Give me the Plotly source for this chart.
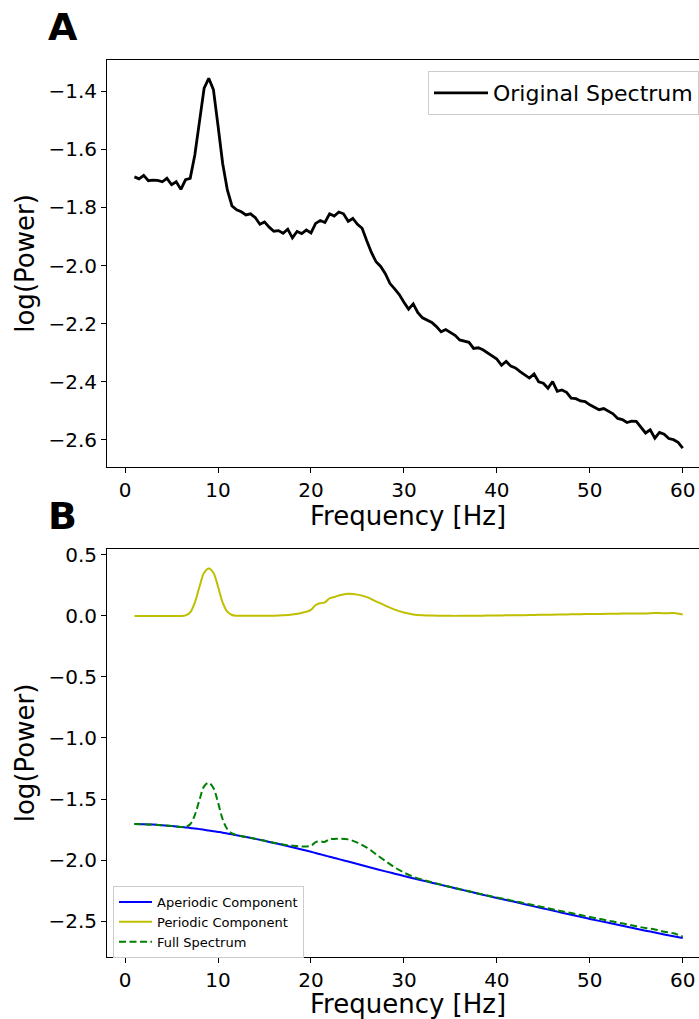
import plotly.graph_objects as go

# ---------------- Panel A: original spectrum (0.5 Hz resolution) ----------------
freq_a = [1.0 + 0.5 * i for i in range(119)]
orig_spectrum = [
    -1.695, -1.702, -1.690, -1.708, -1.706, -1.707, -1.712, -1.700, -1.722, -1.712,
    -1.738, -1.705, -1.700, -1.620, -1.505, -1.390, -1.356, -1.395, -1.520, -1.650,
    -1.740, -1.795, -1.808, -1.815, -1.826, -1.822, -1.835, -1.858, -1.850, -1.868,
    -1.882, -1.880, -1.889, -1.875, -1.905, -1.883, -1.890, -1.878, -1.888, -1.855,
    -1.845, -1.852, -1.822, -1.830, -1.816, -1.822, -1.848, -1.838, -1.858, -1.872,
    -1.915, -1.955, -1.987, -2.003, -2.028, -2.062, -2.080, -2.100, -2.126, -2.150,
    -2.132, -2.162, -2.180, -2.188, -2.196, -2.210, -2.228, -2.220, -2.230, -2.240,
    -2.256, -2.260, -2.264, -2.285, -2.283, -2.290, -2.300, -2.312, -2.322, -2.343,
    -2.330, -2.346, -2.352, -2.365, -2.376, -2.387, -2.373, -2.400, -2.405, -2.422,
    -2.399, -2.433, -2.428, -2.436, -2.456, -2.458, -2.466, -2.468, -2.479, -2.488,
    -2.496, -2.492, -2.502, -2.510, -2.526, -2.530, -2.540, -2.535, -2.536, -2.555,
    -2.576, -2.565, -2.594, -2.574, -2.580, -2.595, -2.599, -2.608, -2.628,
]

# ---------------- Panel B: model components ----------------
freq_b = [1, 2, 3, 4, 5, 6, 6.5, 7, 7.5, 8, 8.5, 9, 9.5, 10, 10.5, 11, 11.5, 12,
          13, 14, 15, 16, 17, 18, 19, 20, 20.5, 21, 21.5, 22, 22.5, 23, 24, 25,
          26, 27, 28, 29, 30, 31, 32, 33, 34, 35, 36, 37, 38, 39, 40, 41, 42, 43,
          44, 45, 46, 47, 48, 49, 50, 51, 52, 53, 54, 55, 56, 57, 58, 59, 60]
aperiodic = [-1.705, -1.707, -1.710, -1.715, -1.721, -1.729, -1.733, -1.737, -1.742,
             -1.747, -1.752, -1.758, -1.764, -1.770, -1.776, -1.783, -1.790, -1.797,
             -1.812, -1.827, -1.843, -1.860, -1.877, -1.895, -1.914, -1.933, -1.943,
             -1.953, -1.963, -1.973, -1.983, -1.993, -2.013, -2.033, -2.053, -2.073,
             -2.093, -2.112, -2.131, -2.150, -2.168, -2.186, -2.204, -2.222, -2.240,
             -2.258, -2.276, -2.294, -2.311, -2.328, -2.345, -2.362, -2.380, -2.397,
             -2.414, -2.432, -2.449, -2.466, -2.483, -2.499, -2.515, -2.531, -2.547,
             -2.563, -2.579, -2.594, -2.610, -2.625, -2.640]
periodic = [0.0, 0.0, 0.0, 0.0, 0.0, 0.0, 0.005, 0.03, 0.11, 0.24, 0.355, 0.39, 0.355,
            0.24, 0.11, 0.035, 0.008, 0.002, 0.001, 0.001, 0.001, 0.002, 0.005, 0.012,
            0.025, 0.05, 0.09, 0.105, 0.112, 0.145, 0.155, 0.168, 0.182, 0.175, 0.155,
            0.12, 0.085, 0.052, 0.028, 0.013, 0.006, 0.003, 0.002, 0.001, 0.001, 0.002,
            0.002, 0.003, 0.004, 0.005, 0.006, 0.007, 0.009, 0.010, 0.011, 0.012,
            0.014, 0.015, 0.016, 0.017, 0.018, 0.019, 0.020, 0.020, 0.021, 0.025,
            0.022, 0.024, 0.012]
full_spectrum = [-1.705, -1.707, -1.710, -1.715, -1.721, -1.729, -1.728, -1.707, -1.632,
                 -1.507, -1.397, -1.368, -1.409, -1.530, -1.666, -1.748, -1.782, -1.795,
                 -1.811, -1.826, -1.842, -1.858, -1.872, -1.883, -1.889, -1.883, -1.853,
                 -1.848, -1.851, -1.828, -1.828, -1.825, -1.831, -1.858, -1.898, -1.953,
                 -2.008, -2.060, -2.103, -2.137, -2.162, -2.183, -2.202, -2.221, -2.239,
                 -2.256, -2.274, -2.291, -2.307, -2.323, -2.339, -2.355, -2.371, -2.387,
                 -2.403, -2.420, -2.435, -2.451, -2.467, -2.482, -2.497, -2.512, -2.527,
                 -2.543, -2.558, -2.569, -2.588, -2.601, -2.628]

x_ticks = [0, 10, 20, 30, 40, 50, 60]
y_ticks_a = [-1.4, -1.6, -1.8, -2.0, -2.2, -2.4, -2.6]
y_ticks_b = [0.5, 0.0, -0.5, -1.0, -1.5, -2.0, -2.5]

FONT = "DejaVu Sans"
W, H = 699, 1019

fig = go.Figure()
fig.add_trace(go.Scatter(x=freq_a, y=orig_spectrum, mode="lines", name="Original Spectrum",
                         line=dict(color="black", width=2.8), xaxis="x", yaxis="y",
                         legend="legend", showlegend=True))
fig.add_trace(go.Scatter(x=freq_b, y=aperiodic, mode="lines", name="Aperiodic Component",
                         line=dict(color="#0000ff", width=2, shape="spline"),
                         xaxis="x2", yaxis="y2", legend="legend2", showlegend=True))
fig.add_trace(go.Scatter(x=freq_b, y=periodic, mode="lines", name="Periodic Component",
                         line=dict(color="#bfbf00", width=2, shape="spline"),
                         xaxis="x2", yaxis="y2", legend="legend2", showlegend=True))
fig.add_trace(go.Scatter(x=freq_b, y=full_spectrum, mode="lines", name="Full Spectrum",
                         line=dict(color="#008000", width=2, dash="7px,3.5px", shape="spline"),
                         xaxis="x2", yaxis="y2", legend="legend2", showlegend=True))

axis_common = dict(showline=True, linecolor="black", linewidth=1, mirror=True,
                   ticks="outside", ticklen=5, tickwidth=1, tickcolor="black",
                   showgrid=False, zeroline=False,
                   tickfont=dict(family=FONT, size=20, color="black"))

x_left = 107 / W
x_mid = (107 + 710) / 2 / W  # matplotlib centres the label on the full (cropped) axes box

fig.update_layout(
    width=W, height=H,
    margin=dict(l=0, r=0, t=0, b=0, autoexpand=False),
    paper_bgcolor="white", plot_bgcolor="white",
    font=dict(family=FONT, color="black"),
    xaxis=dict(domain=[x_left, 1], range=[-1.95, 61.75], tickvals=x_ticks, anchor="y",
               **axis_common),
    yaxis=dict(domain=[1 - 467 / H, 1 - 60 / H], range=[-2.693, -1.293], tickvals=y_ticks_a,
               tickformat=".1f", anchor="x",
               title=dict(text="log(Power)", font=dict(size=26), standoff=6),
               **axis_common),
    xaxis2=dict(domain=[x_left, 1], range=[-1.95, 61.75], tickvals=x_ticks, anchor="y2",
                **axis_common),
    yaxis2=dict(domain=[1 - 957 / H, 1 - 549 / H], range=[-2.795, 0.549], tickvals=y_ticks_b,
                tickformat=".1f", anchor="x2",
                title=dict(text="log(Power)", font=dict(size=26), standoff=6),
                **axis_common),
    legend=dict(x=1.0, y=1 - 71 / H, xanchor="right", yanchor="top",
                bgcolor="white", bordercolor="#cccccc", borderwidth=1,
                font=dict(family=FONT, size=22, color="black"), itemwidth=54),
    legend2=dict(x=113 / W, y=1 - 886 / H, xanchor="left", yanchor="top",
                 bgcolor="white", bordercolor="#cccccc", borderwidth=1,
                 font=dict(family=FONT, size=13, color="black"), tracegroupgap=0,
                 itemwidth=33),
    annotations=[
        dict(text="<b>A</b>", x=46 / W, y=1 - 27 / H, xref="paper", yref="paper",
             xanchor="left", yanchor="middle", showarrow=False,
             font=dict(family=FONT, size=38, color="black")),
        dict(text="<b>B</b>", x=46 / W, y=1 - 516 / H, xref="paper", yref="paper",
             xanchor="left", yanchor="middle", showarrow=False,
             font=dict(family=FONT, size=38, color="black")),
        dict(text="Frequency [Hz]", x=408 / W, y=1 - 516 / H, xref="paper", yref="paper",
             xanchor="center", yanchor="middle", showarrow=False,
             font=dict(family=FONT, size=26, color="black")),
        dict(text="Frequency [Hz]", x=408 / W, y=1 - 1004 / H, xref="paper", yref="paper",
             xanchor="center", yanchor="middle", showarrow=False,
             font=dict(family=FONT, size=26, color="black")),
    ],
)

fig.write_html("out.html")
